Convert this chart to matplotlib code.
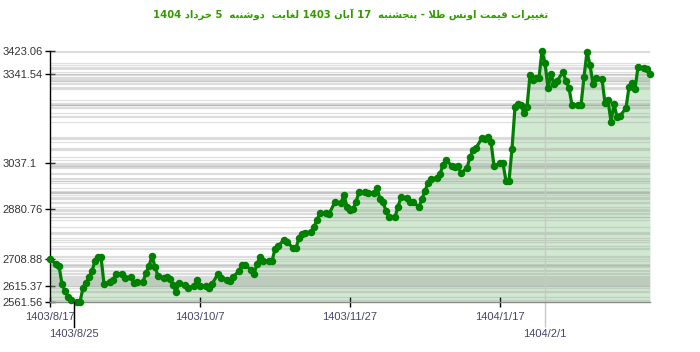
import matplotlib
matplotlib.use("Agg")
import matplotlib.pyplot as plt
from matplotlib.transforms import blended_transform_factory

# ---------------- data ----------------
title_text = "تغییرات قیمت اونس طلا - پنجشنبه  17 آبان 1403 لغایت  دوشنبه  5 خرداد 1404"

# day offset from 1403/8/17
days = [0, 2, 3, 4, 5, 6, 7, 9, 10, 11, 12, 13, 14, 15, 16, 17, 18, 20, 21, 22,
        24, 25, 27, 28, 29, 31, 32, 33, 34, 35, 36, 38, 39, 40, 41, 42, 43, 45, 46, 48,
        49, 50, 52, 53, 54, 56, 57, 59, 60, 61, 63, 64, 65, 67, 68, 69, 70, 71, 73, 74,
        75, 76, 78, 79, 81, 82, 83, 84, 85, 87, 88, 89, 90, 92, 93, 95, 97, 98, 99, 100,
        101, 102, 103, 105, 106, 108, 109, 110, 111, 112, 113, 115, 116, 117, 119, 120, 121, 123, 124, 125,
        126, 127, 129, 130, 131, 132, 134, 135, 136, 137, 139, 140, 141, 142, 144, 145, 146, 147, 148, 150,
        151, 152, 153, 154, 155, 156, 157, 158, 159, 160, 161, 162, 163, 164, 165, 166, 167, 168, 169, 171,
        172, 173, 174, 176, 177, 178, 179, 180, 181, 182, 184, 185, 186, 187, 188, 189, 190, 192, 193, 194,
        195, 196, 198, 199, 200]

prices = [2708.88, 2691.9, 2685.0, 2623.3, 2599.4, 2578.8, 2568.5, 2561.56, 2562.5, 2609.6,
          2626.8, 2647.4, 2667.9, 2702.2, 2715.9, 2716.5, 2623.3, 2630.2, 2637.1, 2657.6,
          2658.0, 2643.9, 2647.4, 2626.8, 2630.2, 2630.0, 2661.1, 2685.0, 2719.3, 2681.6,
          2650.8, 2643.9, 2647.4, 2640.5, 2619.9, 2595.9, 2626.8, 2619.9, 2609.6, 2616.5,
          2637.1, 2615.37, 2616.0, 2609.6, 2623.3, 2657.6, 2643.9, 2637.1, 2633.6, 2647.4,
          2667.9, 2688.5, 2689.0, 2671.3, 2657.6, 2691.9, 2715.9, 2702.2, 2702.5, 2701.8,
          2743.3, 2753.6, 2774.2, 2767.3, 2746.8, 2747.2, 2781.0, 2794.7, 2798.2, 2801.6,
          2818.7, 2842.7, 2866.7, 2867.2, 2863.3, 2904.4, 2901.0, 2928.4, 2887.3, 2877.0,
          2880.76, 2904.4, 2938.7, 2938.2, 2935.3, 2935.8, 2952.4, 2914.7, 2904.4, 2873.6,
          2853.0, 2853.5, 2887.3, 2921.6, 2918.2, 2904.4, 2904.0, 2887.3, 2914.7, 2942.2,
          2969.6, 2983.3, 2986.7, 3000.4, 3031.3, 3048.4, 3027.8, 3024.4, 3027.0, 3003.9,
          3021.0, 3058.7, 3082.7, 3089.6, 3123.8, 3120.4, 3127.3, 3110.1, 3027.8, 3037.1,
          3036.5, 2976.4, 2977.0, 3086.1, 3230.1, 3240.4, 3236.96, 3209.5, 3230.1, 3339.8,
          3322.7, 3329.5, 3330.0, 3423.06, 3380.9, 3295.2, 3343.0, 3308.9, 3319.2, 3350.1,
          3319.5, 3295.2, 3236.96, 3237.5, 3236.5, 3332.9, 3420.0, 3374.1, 3308.9, 3329.5,
          3326.1, 3243.8, 3254.1, 3178.7, 3240.4, 3195.8, 3199.2, 3226.7, 3298.7, 3312.4,
          3291.8, 3367.2, 3363.8, 3360.4, 3341.54]

ytick_values = [3423.06, 3341.54, 3037.1, 2880.76, 2708.88, 2615.37, 2561.56]
xtick_days = [0, 50, 100, 150]
xtick_labels = ["1403/8/17", "1403/10/7", "1403/11/27", "1404/1/17"]
xtick2_days = [8, 165]
xtick2_labels = ["1403/8/25", "1404/2/1"]


# ------------- simple Persian shaping (presentation forms + visual order) -------------
FORMS = {  # isolated, final, initial, medial
    'ا': ('\uFE8D', '\uFE8E', None, None),
    'آ': ('\uFE81', '\uFE82', None, None),
    'ب': ('\uFE8F', '\uFE90', '\uFE91', '\uFE92'),
    'پ': ('\uFB56', '\uFB57', '\uFB58', '\uFB59'),
    'ت': ('\uFE95', '\uFE96', '\uFE97', '\uFE98'),
    'ج': ('\uFE9D', '\uFE9E', '\uFE9F', '\uFEA0'),
    'خ': ('\uFEA5', '\uFEA6', '\uFEA7', '\uFEA8'),
    'د': ('\uFEA9', '\uFEAA', None, None),
    'ر': ('\uFEAD', '\uFEAE', None, None),
    'س': ('\uFEB1', '\uFEB2', '\uFEB3', '\uFEB4'),
    'ش': ('\uFEB5', '\uFEB6', '\uFEB7', '\uFEB8'),
    'ط': ('\uFEC1', '\uFEC2', '\uFEC3', '\uFEC4'),
    'غ': ('\uFECD', '\uFECE', '\uFECF', '\uFED0'),
    'ق': ('\uFED5', '\uFED6', '\uFED7', '\uFED8'),
    'ل': ('\uFEDD', '\uFEDE', '\uFEDF', '\uFEE0'),
    'م': ('\uFEE1', '\uFEE2', '\uFEE3', '\uFEE4'),
    'ن': ('\uFEE5', '\uFEE6', '\uFEE7', '\uFEE8'),
    'ه': ('\uFEE9', '\uFEEA', '\uFEEB', '\uFEEC'),
    'و': ('\uFEED', '\uFEEE', None, None),
    'ی': ('\uFEEF', '\uFEF0', '\uFEF3', '\uFEF4'),
}
LAMALEF = {'ا': ('\uFEFB', '\uFEFC'), 'آ': ('\uFEF5', '\uFEF6')}


def shape(text):
    out = []
    n = len(text)
    i = 0
    while i < n:
        c = text[i]
        if c not in FORMS:
            out.append(c)
            i += 1
            continue
        prev = text[i - 1] if i > 0 else ''
        joins_prev = prev in FORMS and FORMS[prev][2] is not None
        if c == 'ل' and i + 1 < n and text[i + 1] in LAMALEF:
            out.append(LAMALEF[text[i + 1]][1 if joins_prev else 0])
            i += 2
            continue
        nxt = text[i + 1] if i + 1 < n else ''
        joins_next = FORMS[c][2] is not None and nxt in FORMS
        iso, fin, ini, med = FORMS[c]
        if joins_prev and joins_next:
            out.append(med)
        elif joins_prev:
            out.append(fin)
        elif joins_next:
            out.append(ini)
        else:
            out.append(iso)
        i += 1
    s = ''.join(out)[::-1]
    res, buf = [], []
    for ch in s:
        if ch.isdigit():
            buf.append(ch)
        else:
            if buf:
                res.append(''.join(buf[::-1]))
                buf = []
            res.append(ch)
    if buf:
        res.append(''.join(buf[::-1]))
    return ''.join(res)


# ---------------- figure ----------------
plt.rcParams['font.family'] = ['Liberation Sans', 'DejaVu Sans']
fig = plt.figure(figsize=(7.0, 3.52), dpi=100)
ax = fig.add_axes([50 / 700, 1 - 302 / 352, 600 / 700, (302 - 50.7) / 352])

ymin, ymax = 2561.56, 3423.06
ax.set_xlim(0, 200)
ax.set_ylim(ymin, ymax)

green = '#008000'
ax.fill_between(days, prices, ymin, color=green, alpha=0.18, linewidth=0, zorder=1)
for v in sorted(set(round(p) for p in prices)):
    ax.axhline(v, color='#9a9a9a', alpha=0.3, linewidth=0.9, zorder=2)
ax.axvline(xtick2_days[1], color='#c8c8c8', linewidth=1.0, zorder=2)
ax.plot(days, prices, color=green, linewidth=2.3, marker='o', markersize=5.4,
        markeredgewidth=0, zorder=3, clip_on=False)

for s in ['top', 'right']:
    ax.spines[s].set_visible(False)
ax.spines['left'].set_color('black')
ax.spines['left'].set_linewidth(1.0)
ax.spines['bottom'].set_color('#8a8a8a')
ax.spines['bottom'].set_linewidth(1.0)

ax.set_yticks(ytick_values)
ax.set_yticklabels([f"{v:g}" for v in ytick_values])
ax.tick_params(axis='y', direction='inout', length=7, width=1, color='black',
               labelsize=8, labelcolor='#333333', pad=31)
for lab in ax.get_yticklabels():
    lab.set_horizontalalignment('left')

ax.set_xticks(xtick_days)
ax.set_xticklabels(xtick_labels)
ax.set_xticks(xtick2_days, minor=True)
ax.set_xticklabels(xtick2_labels, minor=True)
ax.tick_params(axis='x', which='major', direction='inout', length=7, width=1,
               color='black', labelsize=8, labelcolor='#45456a', pad=3.6)
ax.tick_params(axis='x', which='minor', direction='out', length=18, width=1,
               color='#c8c8c8', labelsize=8, labelcolor='#45456a', pad=1.5)
# black long tick for the first staggered label
trans = blended_transform_factory(ax.transData, ax.transAxes)
ax.plot([xtick2_days[0], xtick2_days[0]], [0, -25 / 251.3], transform=trans,
        color='black', linewidth=1, clip_on=False, zorder=4)

fig.text(351 / 700, 1 - 15 / 352, shape(title_text), ha='center', va='center',
         fontsize=7.2, fontweight='bold', color='#339900', family=['DejaVu Sans'])

fig.savefig('out.png', dpi=100)
